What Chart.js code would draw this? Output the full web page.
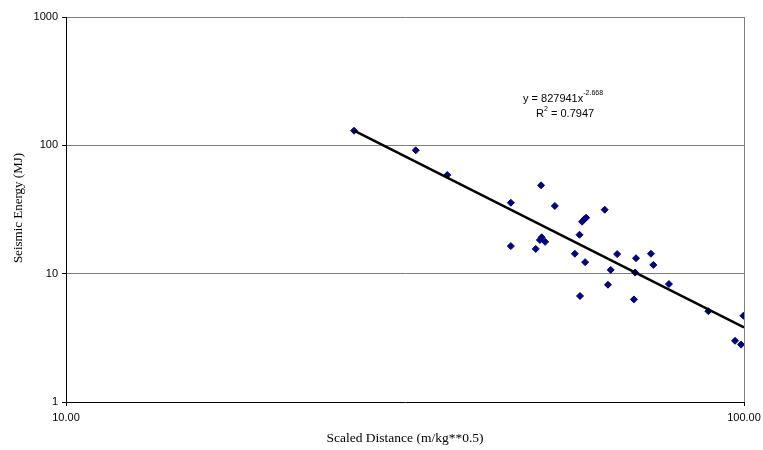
<!DOCTYPE html>
<html>
<head>
<meta charset="utf-8">
<script src="https://cdn.jsdelivr.net/npm/chart.js@4.4.1/dist/chart.umd.min.js"></script>
<style>
  html, body { margin: 0; padding: 0; background: #fff; }
  #wrap { width: 763px; height: 450px; }
</style>
</head>
<body>
<div id="wrap"><canvas id="chart" width="763" height="450"></canvas></div>
<script>
// scaled distance (m/kg**0.5) and seismic energy (MJ)
const distance = [26.6, 32.8, 36.5, 45.3, 50.2, 52.6, 45.3, 49.3, 50.0, 50.3, 50.9,
  56.3, 57.2, 57.7, 58.1, 58.5, 58.3, 57.3, 62.3, 63.6, 63.0, 65.0, 69.3, 69.1,
  68.8, 72.9, 73.5, 77.5, 88.6, 99.8, 97.0, 99.0];
const energy = [130, 91.5, 58.7, 35.7, 48.8, 33.7, 16.4, 15.6, 18.3, 19.2, 17.7,
  14.3, 20.1, 25.4, 26.5, 27.3, 12.3, 6.7, 31.5, 10.7, 8.2, 14.2, 13.2, 10.2,
  6.3, 14.3, 11.7, 8.3, 5.1, 4.7, 3.0, 2.8];

// power trendline end points (y = 827941x^-2.668)
const trendX = [26.6, 100];
const trendY = [130.4, 3.82];

const xTicks = [10, 100];
const yTicks = [1, 10, 100, 1000];

const GRID = "#808080";
const NAVY = "#000080";

const points = distance.map((d, i) => ({ x: d, y: energy[i] }));
const trend = trendX.map((d, i) => ({ x: d, y: trendY[i] }));

const labelsPlugin = {
  id: "labels",
  afterDraw(chart) {
    const ctx = chart.ctx;
    ctx.save();
    ctx.fillStyle = "#000";
    ctx.textBaseline = "middle";
    ctx.textAlign = "center";

    ctx.font = "13.5px 'Liberation Serif', 'Times New Roman', serif";
    ctx.fillText("Scaled Distance (m/kg**0.5)", 405, 438);

    ctx.font = "13px 'Liberation Serif', 'Times New Roman', serif";
    ctx.translate(19, 208);
    ctx.rotate(-Math.PI / 2);
    ctx.fillText("Seismic Energy (MJ)", 0, 0);
    ctx.setTransform(1, 0, 0, 1, 0, 0);

    // trendline equation
    ctx.textAlign = "left";
    ctx.font = "11px 'Liberation Sans', Arial, sans-serif";
    ctx.fillText("y = 827941x", 523, 99);
    const w1 = ctx.measureText("y = 827941x").width;
    ctx.fillText("R", 536, 114);
    const w2 = ctx.measureText("R").width;
    ctx.fillText(" = 0.7947", 536 + w2 + 4, 114);
    ctx.font = "7px 'Liberation Sans', Arial, sans-serif";
    ctx.fillText("-2.668", 523 + w1, 93);
    ctx.fillText("2", 536 + w2, 109);
    ctx.restore();
  }
};

new Chart(document.getElementById("chart"), {
  type: "scatter",
  data: {
    datasets: [
      {
        data: points,
        pointStyle: "rectRot",
        pointRadius: 3.5,
        pointBackgroundColor: NAVY,
        pointBorderColor: NAVY,
        pointBorderWidth: 1,
        showLine: false,
        order: 1
      },
      {
        data: trend,
        showLine: true,
        borderColor: "#000",
        borderWidth: 2.5,
        pointRadius: 0,
        order: 0
      }
    ]
  },
  options: {
    responsive: false,
    animation: false,
    layout: { padding: { top: 17, right: 19, left: 0, bottom: 0 } },
    plugins: {
      legend: { display: false },
      tooltip: { enabled: false }
    },
    scales: {
      x: {
        type: "logarithmic",
        min: 10,
        max: 100,
        afterBuildTicks: s => { s.ticks = xTicks.map(v => ({ value: v })); },
        afterFit: s => { s.height = 48; s.paddingLeft = 0; s.paddingRight = 0; },
        ticks: {
          autoSkip: false,
          maxRotation: 0,
          padding: 5,
          color: "#000",
          font: { family: "'Liberation Sans', Arial, sans-serif", size: 11 },
          callback: v => Number(v).toFixed(2)
        },
        grid: {
          color: c => (c.tick && c.tick.value === 100 ? GRID : "rgba(0,0,0,0)"),
          tickColor: "#000",
          tickLength: 4,
          lineWidth: 1
        },
        border: { color: "#000", width: 1 }
      },
      y: {
        type: "logarithmic",
        min: 1,
        max: 1000,
        afterBuildTicks: s => { s.ticks = yTicks.map(v => ({ value: v })); },
        afterFit: s => { s.width = 66; s.paddingTop = 0; s.paddingBottom = 0; },
        ticks: {
          autoSkip: false,
          padding: 4,
          color: "#000",
          font: { family: "'Liberation Sans', Arial, sans-serif", size: 11 },
          callback: v => String(v)
        },
        grid: {
          color: c => (c.tick && c.tick.value === 1 ? "rgba(0,0,0,0)" : GRID),
          tickColor: "#000",
          tickLength: 4,
          lineWidth: 1
        },
        border: { color: "#000", width: 1 }
      }
    }
  },
  plugins: [labelsPlugin]
});
</script>
</body>
</html>
